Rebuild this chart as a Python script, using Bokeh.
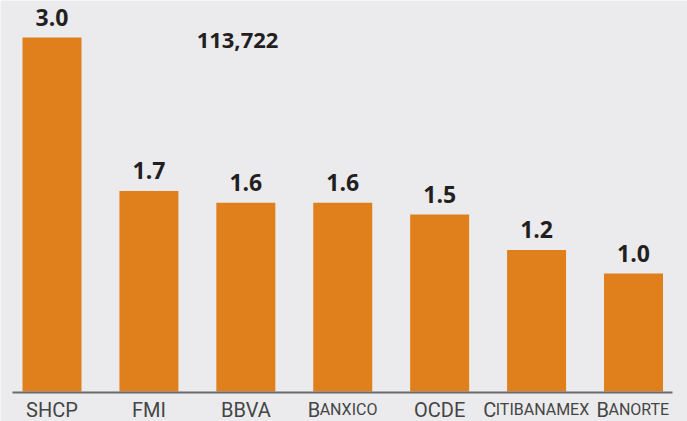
from bokeh.plotting import figure
from bokeh.models import Range1d, ColumnDataSource
from bokeh.core.properties import value
from bokeh.embed import file_html
from bokeh.resources import INLINE

# ---- data ----
categories = ["SHCP", "FMI", "BBVA", "Banxico", "OCDE", "Citibanamex", "Banorte"]
small_caps = [False, False, False, True, False, True, True]
values = [3.0, 1.7, 1.6, 1.6, 1.5, 1.2, 1.0]
value_labels = ["3.0", "1.7", "1.6", "1.6", "1.5", "1.2", "1.0"]
headline = "113,722"

# ---- layout (pixels) ----
W, H = 687, 421
first_center_px, last_center_px = 51.5, 633.0
base_px = 391.0            # baseline, from top
px_per_unit = 118.0
bar_px = 59.0
n = len(categories)
step = (last_center_px - first_center_px) / (n - 1)
x0 = -first_center_px / step
x1 = x0 + W / step
y1 = base_px / px_per_unit
y0 = -(H - base_px) / px_per_unit

def px_to_x(px):
    return x0 + px / step

def px_to_y(py):
    return y1 - py / px_per_unit

BG = "#ebebee"
ORANGE = "#e0801d"
DARK = "#231f20"
GREY_TXT = "#454545"
LABEL_FONT = "Roboto"

p = figure(width=W, height=H, output_backend="svg", toolbar_location=None,
           x_range=Range1d(x0, x1), y_range=Range1d(y0, y1),
           min_border=0, min_border_left=0, min_border_right=0,
           min_border_top=0, min_border_bottom=0)
p.axis.visible = False
p.grid.visible = False
p.outline_line_color = None
p.background_fill_color = BG
p.border_fill_color = BG

xs = list(range(n))
src = ColumnDataSource(dict(x=xs, top=values, lab=value_labels,
                            ly=[v + 20 / px_per_unit for v in values]))

p.vbar(x="x", top="top", bottom=0, width=bar_px / step, source=src,
       fill_color=ORANGE, line_color=None)

# baseline
p.segment(x0=[px_to_x(12)], y0=[px_to_y(392)], x1=[px_to_x(672)], y1=[px_to_y(392)],
          line_color="#6a6a6a", line_width=2)

# value labels
p.text(x="x", y="ly", text="lab", source=src, text_align="center",
       text_baseline="alphabetic", text_font=value("Open Sans"),
       text_font_style="bold", text_font_size="23px", text_color=DARK)

# headline number
p.text(x=[px_to_x(237)], y=[px_to_y(40)], text=[headline], text_align="center",
       text_baseline="alphabetic", text_font=value("Open Sans"),
       text_font_style="bold", text_font_size="22px", text_color=DARK)

# category labels (small caps emulated with two sizes)
big, small = 20, 16
roboto_w = {"A": .652, "B": .622, "C": .652, "D": .657, "E": .568, "F": .553,
            "H": .713, "I": .272, "M": .873, "N": .713, "O": .688, "P": .631,
            "R": .616, "S": .593, "T": .610, "V": .636, "X": .627}
label_y = px_to_y(409)
plain_x, plain_t = [], []
first_x, first_t, first_off = [], [], []
rest_x, rest_t, rest_off = [], [], []
for i, (c, sc) in enumerate(zip(categories, small_caps)):
    if not sc:
        plain_x.append(i)
        plain_t.append(c)
    else:
        f, r = c[0], c[1:].upper()
        w1 = roboto_w.get(f, .62) * big
        w2 = sum(roboto_w.get(ch, .62) for ch in r) * small
        off = (w1 - w2) / 2
        first_x.append(i); first_t.append(f); first_off.append(off)
        rest_x.append(i); rest_t.append(r); rest_off.append(off - 0.5)

p.text(x=plain_x, y=[label_y] * len(plain_x), text=plain_t, text_align="center",
       text_baseline="alphabetic", text_font=value(LABEL_FONT),
       text_font_size=f"{big}px", text_color=GREY_TXT)
p.text(x=first_x, y=[label_y] * len(first_x), text=first_t, x_offset=first_off,
       text_align="right", text_baseline="alphabetic", text_font=value(LABEL_FONT),
       text_font_size=f"{big}px", text_color=GREY_TXT)
p.text(x=rest_x, y=[label_y] * len(rest_x), text=rest_t, x_offset=rest_off,
       text_align="left", text_baseline="alphabetic", text_font=value(LABEL_FONT),
       text_font_size=f"{small}px", text_color=GREY_TXT)

open("out.html", "w").write(file_html(p, INLINE))
